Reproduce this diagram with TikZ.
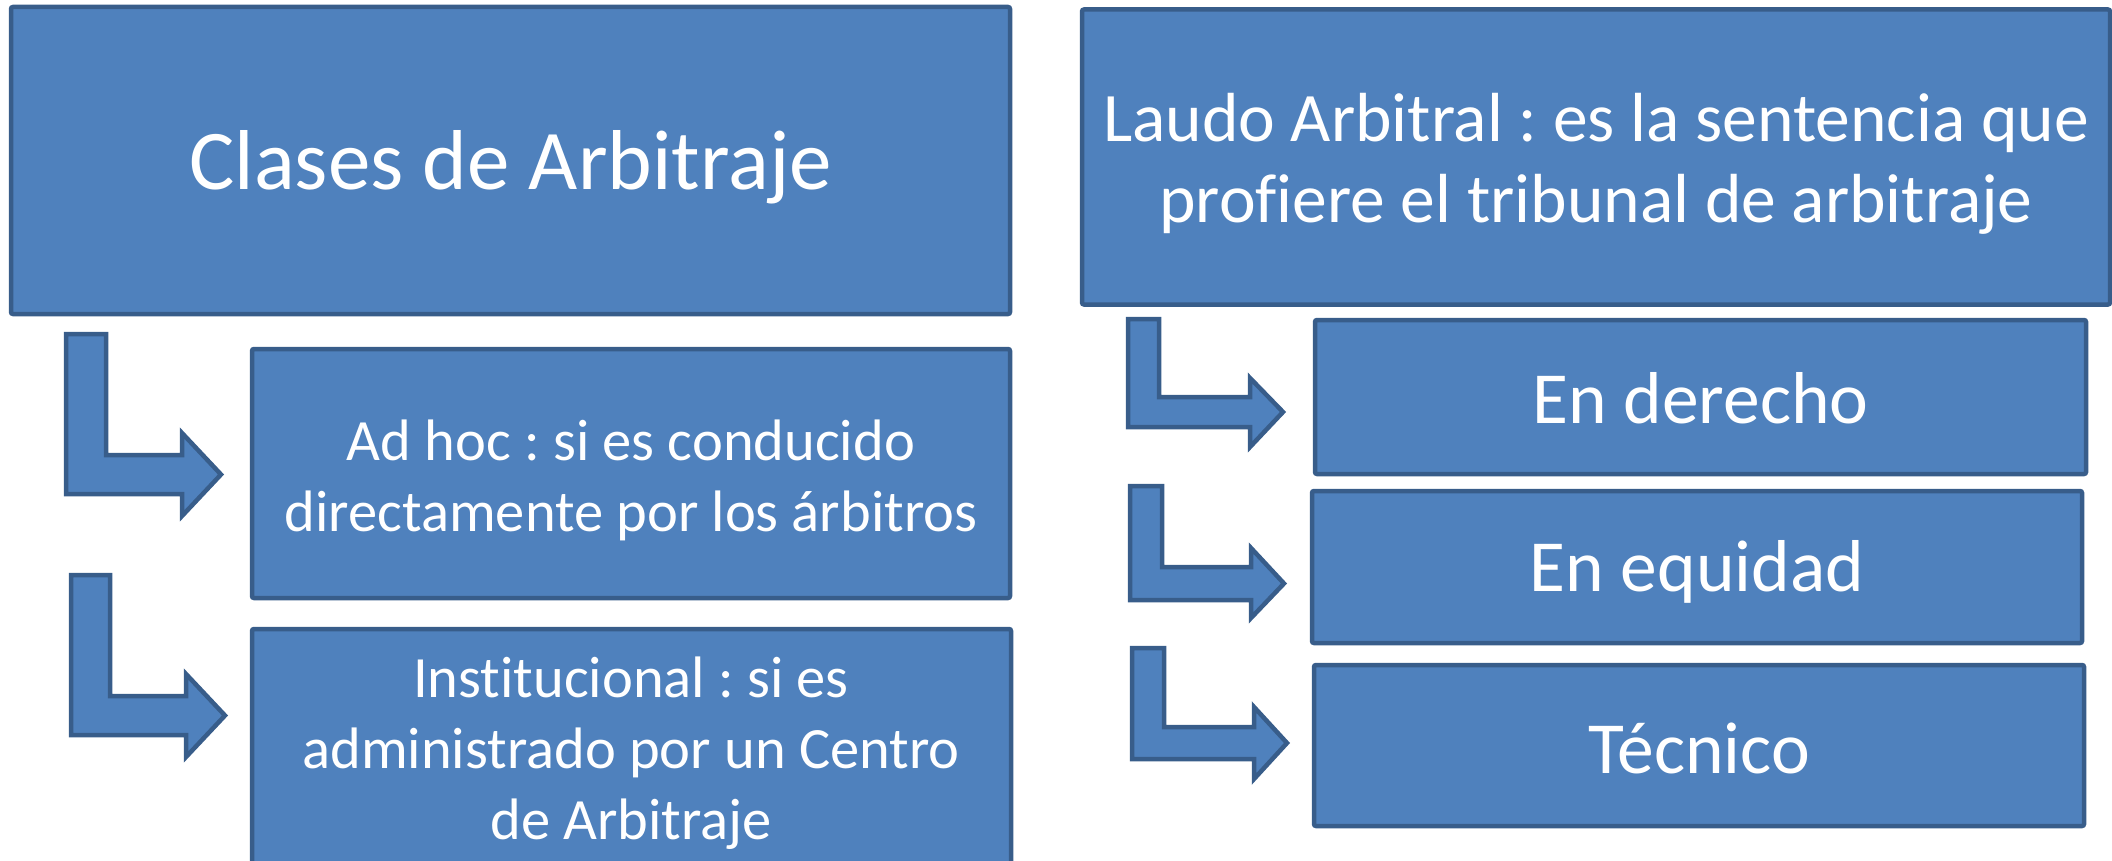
\documentclass[tikz,border=0pt]{standalone}
\usepackage{fontspec}
\setmainfont{Carlito}[Ligatures={NoCommon}]
\frenchspacing
\definecolor{boxfill}{HTML}{4F81BD}
\definecolor{boxline}{HTML}{385D8A}
\tikzset{
  box/.style={draw=boxline, fill=boxfill, line width=4.5pt, rounded corners=2pt,
    inner sep=0pt, anchor=center},
  txt/.style={text=white, align=center, inner sep=0pt, anchor=center},
  arr/.style={draw=boxline, fill=boxfill, line width=4.5pt, line join=miter},
  big/.style={font=\fontsize{85}{104}\selectfont},
  mid/.style={font=\fontsize{69.5}{81}\selectfont},
  lev/.style={font=\fontsize{73.5}{89}\selectfont},
  small/.style={font=\fontsize{58.5}{71}\selectfont}
}
\newcommand\bentarr[9]{\draw[arr] (#1,#2) -- (#3,#2) -- (#3,#4) -- (#5,#4) -- (#5,#6) -- (#7,{(#4+#8)/2}) -- (#5,#9) -- (#5,#8) -- (#1,#8) -- cycle;}
\begin{document}
\begin{tikzpicture}[x=1pt,y=-1pt]
\useasboundingbox (0,0) rectangle (2112,861);
\clip (0,0) rectangle (2112,861);
% left column
\node[box,minimum width=999pt,minimum height=307pt] (clases) at (510.5,160.5) {};
\node[txt,big] (clases-t) at ([yshift=-7pt]clases.center) {Clases de Arbitraje};
\node[box,minimum width=758pt,minimum height=249pt] (adhoc) at (631,473.5) {};
\node[txt,small] (adhoc-t) at ([yshift=-7pt]adhoc.center) {Ad hoc : si es conducido\\directamente por los árbitros};
\node[box,minimum width=759pt,minimum height=371pt] (inst) at (631.5,814.5) {};
\node[txt,small] (inst-t) at (631,753) {Institucional : si es\\administrado por un Centro\\de Arbitraje};
% right column
\node[box,minimum width=1028pt,minimum height=295pt] (laudo) at (1596,157) {};
\node[txt,mid] (laudo-t) at ([yshift=-7pt]laudo.center) {Laudo Arbitral : es la sentencia que\\profiere el tribunal de arbitraje};
\node[box,minimum width=771pt,minimum height=154pt] (derecho) at (1700.5,397) {};
\node[txt,lev] (derecho-t) at ([yshift=-1pt]derecho.center) {En derecho};
\node[box,minimum width=770pt,minimum height=152pt] (equidad) at (1697,567) {};
\node[txt,lev] (equidad-t) at ([yshift=-5pt]equidad.center) {En equidad};
\node[box,minimum width=770pt,minimum height=161pt] (tecnico) at (1699,745.5) {};
\node[txt,lev] (tecnico-t) at ([yshift=-3pt]tecnico.center) {Técnico};
% bent arrows: L, T, V, I, H, HT, X, B, HB
\bentarr{66}{334}{106}{455}{182}{433}{221}{494}{516}
\bentarr{71}{575}{110}{696}{186}{674}{225}{735}{757}
\bentarr{1128}{319}{1159}{397}{1250}{378}{1283}{427}{447}
\bentarr{1130}{486}{1162}{567}{1251}{548}{1284}{600}{618}
\bentarr{1132}{648}{1164}{727}{1254}{707}{1287}{759}{779}
\end{tikzpicture}
\end{document}
